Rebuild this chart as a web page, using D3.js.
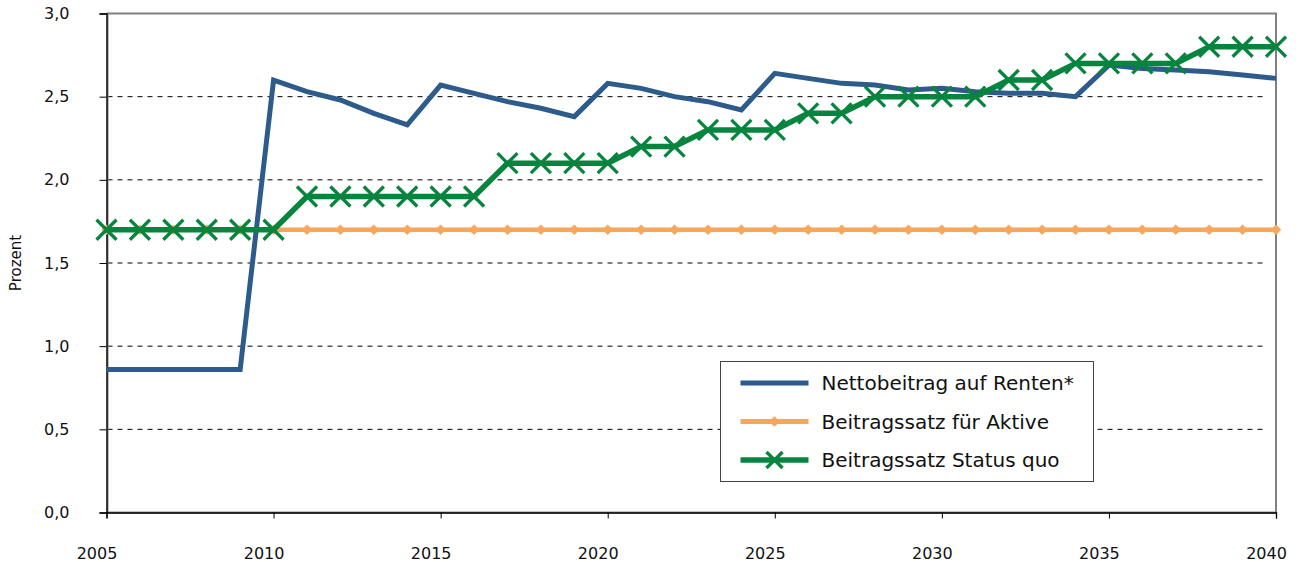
<!DOCTYPE html>
<meta charset="utf-8">
<title>Beitragssatz</title>
<style type="text/css">
  body { margin: 0; background: #fff; }
  svg text { font-family: "DejaVu Sans", sans-serif; fill: #111; }
  svg .legend text { font-size: 20px; }
</style>
<body>
<script src="https://cdn.jsdelivr.net/npm/d3@7/dist/d3.min.js"></script>
<script>

// data
var years = [2005, 2006, 2007, 2008, 2009, 2010, 2011, 2012, 2013, 2014,
             2015, 2016, 2017, 2018, 2019, 2020, 2021, 2022, 2023, 2024,
             2025, 2026, 2027, 2028, 2029, 2030, 2031, 2032, 2033, 2034,
             2035, 2036, 2037, 2038, 2039, 2040];

var nettoRenten = [0.86, 0.86, 0.86, 0.86, 0.86, 2.60, 2.53, 2.48, 2.40, 2.33,
                   2.57, 2.52, 2.47, 2.43, 2.38, 2.58, 2.55, 2.50, 2.47, 2.42,
                   2.64, 2.61, 2.58, 2.57, 2.54, 2.55, 2.53, 2.52, 2.52, 2.50,
                   2.69, 2.67, 2.66, 2.65, 2.63, 2.61];

var satzAktive = [1.7, 1.7, 1.7, 1.7, 1.7, 1.7, 1.7, 1.7, 1.7, 1.7,
                  1.7, 1.7, 1.7, 1.7, 1.7, 1.7, 1.7, 1.7, 1.7, 1.7,
                  1.7, 1.7, 1.7, 1.7, 1.7, 1.7, 1.7, 1.7, 1.7, 1.7,
                  1.7, 1.7, 1.7, 1.7, 1.7, 1.7];

var satzStatusQuo = [1.7, 1.7, 1.7, 1.7, 1.7, 1.7, 1.9, 1.9, 1.9, 1.9,
                     1.9, 1.9, 2.1, 2.1, 2.1, 2.1, 2.2, 2.2, 2.3, 2.3,
                     2.3, 2.4, 2.4, 2.5, 2.5, 2.5, 2.5, 2.6, 2.6, 2.7,
                     2.7, 2.7, 2.7, 2.8, 2.8, 2.8];

var xTicks = [2005, 2010, 2015, 2020, 2025, 2030, 2035, 2040];
var yTicks = [0, 0.5, 1.0, 1.5, 2.0, 2.5, 3.0];

var seriesNames = ["Nettobeitrag auf Renten*", "Beitragssatz für Aktive", "Beitragssatz Status quo"];

// layout
var margin = {top: 13.5, right: 24, bottom: 49.5, left: 106.5};
var width = 1300 - margin.left - margin.right;
var height = 562 - margin.top - margin.bottom;

var blue = "#2d5b8c", orange = "#f8a65b", green = "#07853f";

var x = d3.scaleLinear().domain([2005, 2040]).range([0, width]);
var y = d3.scaleLinear().domain([0, 3]).range([height, 0]);

var de = d3.formatLocale({decimal: ",", thousands: ".", grouping: [3], currency: ["", "€"]});
var fmt = de.format(".1f");

var svg = d3.select("body")
            .append("svg")
            .attr("width", 1300)
            .attr("height", 562)
            .append("g")
            .attr("transform", "translate(" + margin.left + "," + margin.top + ")");

// grid lines
svg.selectAll(".grid")
   .data(yTicks.filter(function(d) { return d > 0 && d < 3; }))
   .enter()
   .append("line")
   .attr("class", "grid")
   .attr("x1", 1)
   .attr("x2", width - 9)
   .attr("y1", function(d) { return y(d); })
   .attr("y2", function(d) { return y(d); })
   .attr("stroke", "#000")
   .attr("stroke-width", 1)
   .attr("stroke-dasharray", "5,5");

// plot border (grey)
svg.append("rect")
   .attr("x", 1)
   .attr("y", 0)
   .attr("width", width - 1)
   .attr("height", height)
   .attr("fill", "none")
   .attr("stroke", "#808080")
   .attr("stroke-width", 2);

// axes
var yAxis = svg.append("g")
   .call(d3.axisLeft(y).tickValues(yTicks).tickFormat(fmt).tickSize(7).tickPadding(30));
var xAxis = svg.append("g")
   .attr("transform", "translate(0," + height + ")")
   .call(d3.axisBottom(x).tickValues(xTicks).tickFormat(d3.format("d")).tickSize(6).tickPadding(29));

[yAxis, xAxis].forEach(function(a) {
  a.attr("font-family", null).attr("font-size", null);
  a.select(".domain").attr("stroke", "#000").attr("stroke-width", 1.3);
  a.selectAll(".tick line").attr("stroke", "#000");
  a.selectAll(".tick text")
   .style("fill", "#111")
   .style("font-family", "'DejaVu Sans', sans-serif")
   .style("font-size", "16px");
});
xAxis.selectAll(".tick text").attr("dx", -10);

// y axis title
svg.append("text")
   .attr("transform", "rotate(-90)")
   .attr("x", -height / 2)
   .attr("y", -86)
   .style("text-anchor", "middle")
   .style("font-size", "15px")
   .text("Prozent");

var line = d3.line()
             .x(function(d, i) { return x(years[i]); })
             .y(function(d) { return y(d); });

// Nettobeitrag
svg.append("path")
   .datum(nettoRenten)
   .attr("d", line)
   .attr("fill", "none")
   .attr("stroke", blue)
   .attr("stroke-width", 5)
   .attr("stroke-linejoin", "miter");

// Beitragssatz Aktive
svg.append("path")
   .datum(satzAktive)
   .attr("d", line)
   .attr("fill", "none")
   .attr("stroke", orange)
   .attr("stroke-width", 4.5);

var diamond = d3.symbol().type(d3.symbolDiamond2).size(70);
svg.selectAll(".dia")
   .data(satzAktive)
   .enter()
   .append("path")
   .attr("class", "dia")
   .attr("d", diamond)
   .attr("transform", function(d, i) { return "translate(" + x(years[i]) + "," + y(d) + ")"; })
   .attr("fill", orange);

// Beitragssatz Status quo
svg.append("path")
   .datum(satzStatusQuo)
   .attr("d", line)
   .attr("fill", "none")
   .attr("stroke", green)
   .attr("stroke-width", 5.5);

function cross(sel, s) {
  sel.append("path")
     .attr("d", "M" + (-s) + "," + (-s) + "L" + s + "," + s + "M" + (-s) + "," + s + "L" + s + "," + (-s))
     .attr("stroke", green)
     .attr("stroke-width", 3.3)
     .attr("fill", "none");
}

svg.selectAll(".cross")
   .data(satzStatusQuo)
   .enter()
   .append("g")
   .attr("class", "cross")
   .attr("transform", function(d, i) { return "translate(" + x(years[i]) + "," + y(d) + ")"; })
   .each(function() { cross(d3.select(this), 10); });

// legend
var legend = svg.append("g")
                .attr("class", "legend")
                .attr("transform", "translate(" + (720.5 - margin.left) + "," + (361.5 - margin.top) + ")");

legend.append("rect")
      .attr("width", 373)
      .attr("height", 120)
      .attr("fill", "#fff")
      .attr("stroke", "#444")
      .attr("stroke-width", 1);

var colors = [blue, orange, green];
seriesNames.forEach(function(name, i) {
  var ly = 21.5 + i * 38.5;
  var g = legend.append("g").attr("transform", "translate(0," + ly + ")");
  g.append("line")
   .attr("x1", 20).attr("x2", 88)
   .attr("stroke", colors[i])
   .attr("stroke-width", i == 2 ? 5.5 : 5);
  if (i == 1) {
    g.append("path").attr("d", diamond).attr("transform", "translate(54,0)").attr("fill", orange);
  }
  if (i == 2) {
    var c = g.append("g").attr("transform", "translate(54,0)");
    cross(c, 8);
  }
  g.append("text")
   .attr("x", 101)
   .attr("dy", "0.36em")
   .text(name);
});

</script>
</body>
